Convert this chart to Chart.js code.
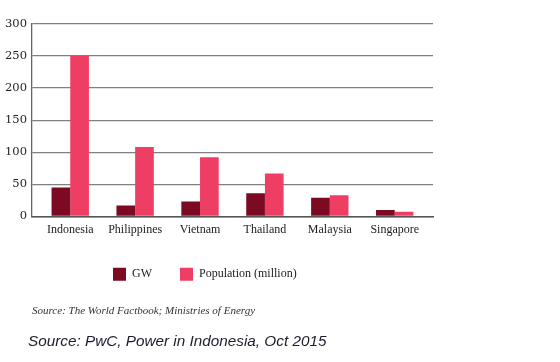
<!DOCTYPE html>
<html>
<head>
<meta charset="utf-8">
<script src="https://cdn.jsdelivr.net/npm/chart.js@4.4.0/dist/chart.umd.min.js"></script>
<style>
  html, body { margin: 0; padding: 0; background: #fff; }
  #wrap { width: 560px; height: 362px; }
</style>
</head>
<body>
<div id="wrap"><canvas id="power"></canvas></div>
<script>
//--------------------------------------------Data
const countries = ['Indonesia', 'Philippines', 'Vietnam', 'Thailand', 'Malaysia', 'Singapore'];
const gwValues = [45, 17, 23, 36, 29, 10];
const popValues = [250, 108, 92, 67, 33, 7];
const yTicks = [0, 50, 100, 150, 200, 250, 300];

//--------------------------------------------Helpers
// bars sit on a linear x scale so the axis can start a bit before the first group
const toPoints = (arr) => arr.map((v, i) => ({ x: i, y: v }));

const subText = 'Source: The World Factbook; Ministries of Energy';

// legend and source lines are left-aligned, not centred on the chart
const nudge = {
    id: 'nudge',
    afterLayout(chart) {
        const lg = chart.legend;
        lg.left += 85; lg.right += 85;
        lg.top -= 3; lg.bottom -= 3;
        chart.titleBlock.left += 28;
        chart.titleBlock.right += 28;
        const sub = chart.boxes.find(b => b.options && b.options.text === subText);
        if (sub) { sub.left += 32; sub.right += 32; }
    }
};

const data = {
    datasets: [{
        label: 'GW',
        data: toPoints(gwValues),
        backgroundColor: '#7b0a22',
        borderWidth: 0,
    }, {
        label: 'Population (million)',
        data: toPoints(popValues),
        backgroundColor: '#ef3e63',
        borderWidth: 0,
    }]
};

const config = {
    type: 'bar',
    data: data,
    plugins: [nudge],
    options: {
        responsive: true,
        maintainAspectRatio: false,
        animation: false,
        categoryPercentage: 0.576,
        barPercentage: 1,
        layout: {
            padding: { top: 24, right: 127, left: 0, bottom: 0 }
        },
        plugins: {
            tooltip: { enabled: false },
            legend: {
                position: 'bottom',
                align: 'start',
                labels: {
                    boxWidth: 13,
                    boxHeight: 13,
                    padding: 28,
                    color: '#222',
                    font: { family: 'Liberation Serif', size: 12 }
                }
            },
            subtitle: {
                display: true,
                position: 'bottom',
                align: 'start',
                text: subText,
                color: '#333',
                font: { family: 'Liberation Serif', size: 11, style: 'italic' },
                padding: { top: 10.7, bottom: 15 }
            },
            title: {
                display: true,
                position: 'bottom',
                align: 'start',
                text: 'Source: PwC, Power in Indonesia, Oct 2015',
                color: '#1c1c2e',
                font: { family: 'Liberation Sans', size: 15.3, style: 'italic', weight: 'normal' },
                padding: { top: 0, bottom: 11 }
            }
        },
        scales: {
            x: {
                type: 'linear',
                bounds: 'data',
                offset: false,
                min: -0.59,
                max: 5.59,
                afterBuildTicks: (scale) => { scale.ticks = countries.map((c, i) => ({ value: i })); },
                grid: { display: false, drawTicks: false },
                border: { display: true, color: '#555', width: 1.5 },
                ticks: {
                    autoSkip: false,
                    maxRotation: 0,
                    padding: 6,
                    color: '#222',
                    font: { family: 'Liberation Serif', size: 12 },
                    callback: (v) => countries[v] ?? ''
                }
            },
            y: {
                min: 0,
                max: 300,
                afterBuildTicks: (scale) => { scale.ticks = yTicks.map(v => ({ value: v })); },
                grid: { color: '#808080', lineWidth: 1.3, drawTicks: false },
                border: { display: true, color: '#666', width: 1.3 },
                ticks: {
                    padding: 5,
                    color: '#222',
                    font: { family: 'DejaVu Serif', size: 11.5 }
                }
            }
        }
    }
};

new Chart(document.getElementById('power'), config);
</script>
</body>
</html>
